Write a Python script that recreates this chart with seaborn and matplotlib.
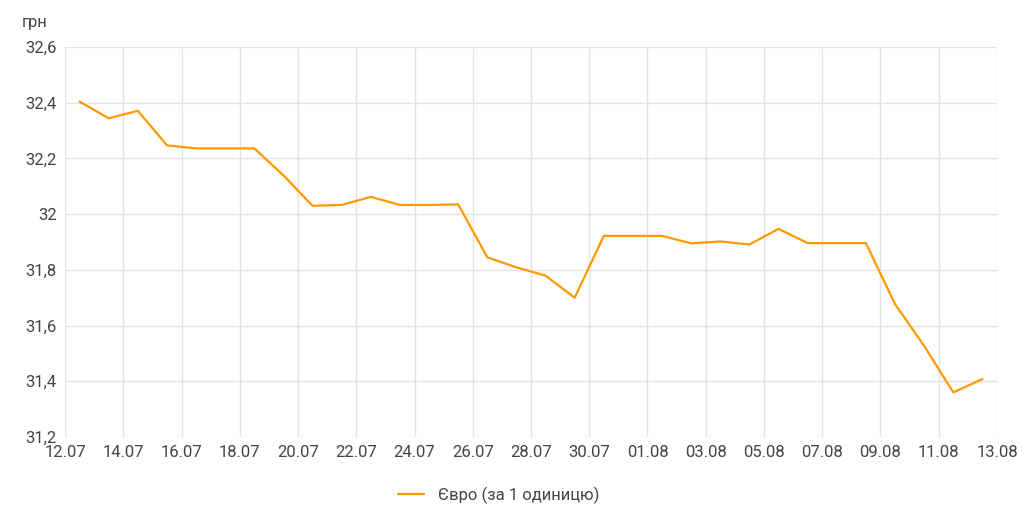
import pandas as pd
import matplotlib
matplotlib.use("Agg")
import matplotlib.pyplot as plt
import matplotlib.dates as mdates
from matplotlib.ticker import FuncFormatter
import seaborn as sns

# daily EUR rate (points sit at midday)
days = ["2021-07-12", "2021-07-13", "2021-07-14", "2021-07-15", "2021-07-16",
        "2021-07-17", "2021-07-18", "2021-07-19", "2021-07-20", "2021-07-21",
        "2021-07-22", "2021-07-23", "2021-07-24", "2021-07-25", "2021-07-26",
        "2021-07-27", "2021-07-28", "2021-07-29", "2021-07-30", "2021-07-31",
        "2021-08-01", "2021-08-02", "2021-08-03", "2021-08-04", "2021-08-05",
        "2021-08-06", "2021-08-07", "2021-08-08", "2021-08-09", "2021-08-10",
        "2021-08-11", "2021-08-12"]
euro = [32.404, 32.344, 32.371, 32.247, 32.236, 32.236, 32.236, 32.139,
        32.030, 32.033, 32.062, 32.033, 32.033, 32.035, 31.845, 31.809,
        31.779, 31.700, 31.922, 31.922, 31.922, 31.895, 31.902, 31.891,
        31.947, 31.896, 31.896, 31.896, 31.677, 31.527, 31.360, 31.408]
y_ticks = [31.2, 31.4, 31.6, 31.8, 32.0, 32.2, 32.4, 32.6]
x_ticks = ["2021-07-12", "2021-07-14", "2021-07-16", "2021-07-18", "2021-07-20",
           "2021-07-22", "2021-07-24", "2021-07-26", "2021-07-28", "2021-07-30",
           "2021-08-01", "2021-08-03", "2021-08-05", "2021-08-07", "2021-08-09",
           "2021-08-11", "2021-08-13"]
series_name = "Євро (за 1 одиницю)"

df = pd.DataFrame({"date": pd.to_datetime(days) + pd.Timedelta(hours=12),
                   "value": euro})

sns.set_style("white")
plt.rcParams['font.family'] = ['Roboto', 'DejaVu Sans']

fig = plt.figure(figsize=(10.24, 5.30), dpi=100)
ax = fig.add_axes([0.0635, 0.1755, 0.9101, 0.7358])

sns.lineplot(data=df, x="date", y="value", color="#FF9900", linewidth=1.6,
             label=series_name, ax=ax)

ax.set_xlim(pd.Timestamp(x_ticks[0]), pd.Timestamp(x_ticks[-1]))
ax.set_ylim(y_ticks[0], y_ticks[-1])
ax.set_xticks(pd.to_datetime(x_ticks))
ax.xaxis.set_major_formatter(mdates.DateFormatter("%d.%m"))
ax.set_yticks(y_ticks)
ax.yaxis.set_major_formatter(FuncFormatter(lambda v, p: f"{v:g}".replace(".", ",")))

ax.grid(True, color="#e3e3e3", linewidth=1)
for s in ax.spines.values():
    s.set_visible(False)
ax.tick_params(axis="both", length=0, labelsize=12, labelcolor="#444444")
ax.tick_params(axis="x", pad=6)
ax.tick_params(axis="y", pad=6)
ax.set_xlabel("")
ax.set_ylabel("")

fig.text(22 / 1024, 1 - 22 / 530, "грн", fontsize=12, color="#444444",
         ha="left", va="center")

ax.legend(loc="center", bbox_to_anchor=(0.465, -0.149), frameon=False,
          fontsize=12, handlelength=1.6, labelcolor="#444444")

fig.savefig("out.png", dpi=100)
